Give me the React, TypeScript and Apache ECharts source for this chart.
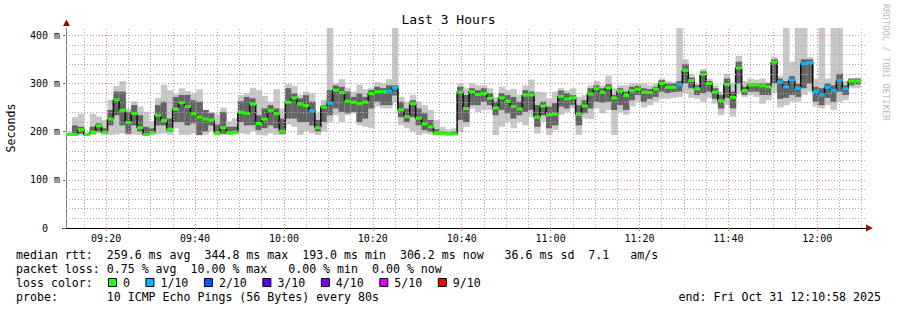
import React, { useEffect, useRef } from "react";
import * as echarts from "echarts";

// ---- time frame (seconds since midnight) ----
const START_TIME = 9 * 3600 + 10 * 60 + 58; // 09:10:58
const END_TIME = 12 * 3600 + 10 * 60 + 58; // 12:10:58
const STEP_SECONDS = 80;

// ---- per-step values (ms) ----
const median = [
  194, 194, 204, 194, 199, 212, 199, 226, 266, 244, 219, 237, 208, 194, 198, 234, 223, 205, 247, 260,
  252, 237, 230, 226, 224, 197, 208, 197, 199, 240, 238, 257, 217, 226, 244, 237, 201, 261, 270, 257,
  254, 243, 208, 251, 259, 286, 281, 263, 261, 258, 261, 279, 283, 283, 284, 291, 245, 231, 258, 228,
  216, 210, 197, 196, 195, 195, 282, 248, 283, 277, 279, 269, 249, 270, 263, 252, 247, 276, 276, 230,
  253, 235, 236, 273, 268, 270, 236, 253, 278, 289, 282, 291, 270, 284, 275, 285, 288, 282, 281, 288,
  300, 292, 292, 297, 327, 306, 289, 319, 300, 282, 264, 298, 271, 332, 285, 297, 297, 295, 293, 344,
  303, 293, 307, 290, 341, 343, 283, 276, 292, 286, 306, 289, 305, 305,
];
const pingMin = [
  192, 193, 193, 192, 193, 196, 194, 193, 194, 196, 193, 194, 193, 192, 193, 194, 196, 193, 207, 193,
  193, 196, 192, 193, 201, 192, 193, 193, 194, 196, 194, 200, 193, 192, 196, 193, 193, 215, 210, 193,
  200, 196, 193, 200, 220, 234, 220, 234, 238, 213, 210, 207, 252, 248, 248, 260, 213, 207, 200, 193,
  196, 194, 193, 193, 193, 193, 198, 210, 248, 241, 245, 245, 193, 210, 220, 207, 220, 213, 230, 196,
  220, 193, 203, 235, 240, 248, 193, 227, 226, 248, 238, 245, 193, 240, 235, 252, 262, 250, 255, 262,
  268, 268, 270, 272, 280, 270, 268, 262, 270, 258, 234, 255, 231, 279, 272, 276, 272, 258, 265, 280,
  250, 255, 262, 262, 276, 283, 252, 248, 255, 245, 262, 265, 290, 290,
];
const pingLow = [
  193, 194, 196, 193, 196, 200, 196, 213, 234, 213, 196, 213, 200, 193, 195, 213, 213, 200, 220, 220,
  213, 217, 193, 200, 213, 194, 196, 195, 196, 220, 213, 213, 203, 207, 213, 207, 196, 227, 227, 220,
  220, 213, 200, 220, 234, 248, 241, 238, 241, 220, 227, 248, 262, 255, 255, 275, 230, 220, 230, 213,
  203, 200, 194, 194, 194, 194, 224, 220, 255, 255, 262, 255, 234, 245, 238, 227, 234, 241, 245, 210,
  234, 207, 213, 252, 248, 255, 213, 238, 248, 262, 260, 262, 245, 255, 245, 265, 276, 262, 268, 272,
  283, 280, 282, 283, 300, 290, 276, 280, 283, 268, 248, 270, 248, 300, 276, 283, 283, 276, 276, 300,
  268, 270, 276, 272, 290, 300, 262, 255, 270, 262, 283, 276, 296, 298,
];
const pingHigh = [
  196, 213, 210, 196, 210, 217, 207, 245, 283, 283, 241, 255, 234, 210, 207, 255, 262, 227, 272, 276,
  276, 265, 262, 245, 238, 215, 241, 210, 210, 263, 272, 269, 234, 248, 255, 248, 227, 290, 279, 269,
  276, 262, 224, 255, 286, 296, 293, 283, 272, 279, 272, 286, 293, 290, 296, 296, 262, 248, 265, 248,
  238, 224, 205, 200, 198, 200, 293, 276, 290, 286, 290, 280, 262, 280, 276, 272, 262, 286, 283, 255,
  262, 252, 259, 285, 280, 276, 255, 265, 290, 296, 290, 298, 276, 290, 283, 293, 295, 290, 288, 293,
  307, 300, 300, 305, 340, 312, 296, 325, 305, 290, 276, 310, 283, 345, 293, 300, 300, 300, 300, 350,
  310, 305, 315, 300, 350, 350, 293, 290, 300, 296, 320, 296, 310, 310,
];
const pingMax = [
  200, 230, 237, 198, 237, 231, 224, 266, 295, 305, 248, 263, 252, 241, 222, 270, 297, 286, 278, 290,
  284, 279, 288, 245, 241, 236, 250, 221, 228, 276, 279, 291, 286, 274, 262, 288, 248, 299, 295, 276,
  283, 279, 240, 266, 415, 300, 309, 291, 283, 297, 288, 291, 303, 300, 309, 415, 272, 262, 276, 262,
  255, 245, 224, 210, 205, 207, 300, 290, 300, 296, 296, 290, 272, 293, 286, 289, 276, 296, 308, 283,
  282, 269, 283, 290, 286, 290, 272, 276, 296, 305, 296, 316, 290, 296, 296, 300, 300, 300, 296, 300,
  310, 305, 303, 415, 350, 320, 300, 330, 310, 296, 283, 320, 300, 357, 305, 310, 308, 310, 303, 355,
  315, 415, 345, 415, 415, 355, 310, 415, 310, 415, 415, 305, 310, 312,
];
// lost pings out of 10 per step
const lossCount = [
  0, 0, 0, 0, 0, 0, 0, 0, 0, 0, 0, 0, 0, 0, 0, 0, 0, 0, 0, 0,
  0, 0, 0, 0, 0, 0, 0, 0, 0, 0, 0, 0, 0, 0, 0, 0, 0, 0, 0, 0,
  0, 1, 0, 0, 1, 0, 0, 0, 0, 0, 0, 0, 0, 0, 1, 1, 0, 0, 0, 0,
  0, 0, 0, 0, 0, 0, 0, 0, 0, 0, 0, 0, 0, 0, 0, 0, 0, 0, 0, 0,
  0, 0, 0, 0, 0, 0, 0, 0, 0, 0, 0, 0, 0, 0, 0, 0, 0, 0, 0, 0,
  0, 0, 0, 1, 0, 0, 0, 0, 0, 0, 0, 0, 0, 0, 0, 0, 0, 0, 0, 0,
  1, 1, 1, 1, 1, 1, 1, 1, 1, 1, 1, 1, 0, 0,
];

const lossColors = ["#26ff00", "#00b8ff", "#0059ff", "#5e00ff", "#7e00ff", "#dd00ff", "#ff0000"];
const lossLabels = ["0", "1/10", "2/10", "3/10", "4/10", "5/10", "9/10"];
const xLabelTicks = ["09:20", "09:40", "10:00", "10:20", "10:40", "11:00", "11:20", "11:40", "12:00"];
const yLabelTicks = [0, 100, 200, 300, 400];

const statLines = [
  "median rtt:  259.6 ms avg  344.8 ms max  193.0 ms min  306.2 ms now   36.6 ms sd  7.1   am/s",
  "packet loss: 0.75 % avg  10.00 % max   0.00 % min  0.00 % now",
];
const probeLine = "probe:       10 ICMP Echo Pings (56 Bytes) every 80s";
const endLine = "end: Fri Oct 31 12:10:58 2025";

const MONO = '"DejaVu Sans Mono", monospace';
const nb = (s: string) => s.replace(/ /g, "\u00a0");
const toSec = (hm: string) => {
  const [h, m] = hm.split(":").map(Number);
  return h * 3600 + m * 60;
};
const fmtTime = (v: number) => {
  const h = Math.floor(v / 3600);
  const m = Math.round((v - h * 3600) / 60);
  return `${String(h).padStart(2, "0")}:${String(m).padStart(2, "0")}`;
};
const lossColor = (n: number) => lossColors[Math.min(n, 6)];

function buildOption() {
  const N = median.length;
  const stepStart = (i: number) => START_TIME + i * STEP_SECONDS;
  const smokeData = median.map((_, i) => [stepStart(i), stepStart(i + 1), pingMin[i], pingLow[i], pingHigh[i], pingMax[i]]);
  const medianData = median.map((m, i) => [stepStart(i), stepStart(i + 1), m, lossCount[i]]);
  const lineData = median.map((m, i) => [stepStart(i), m]).concat([[stepStart(N), median[N - 1]]]);
  const majorTimes = xLabelTicks.map(toSec);

  // grid lines (5 min / 20 ms minor, 20 min / 100 ms major)
  const minorTimes: number[] = [];
  for (let t = toSec("09:15"); t <= END_TIME; t += 300) if (!majorTimes.includes(t)) minorTimes.push(t);
  const minorValues: number[] = [];
  for (let v = 20; v <= 400; v += 20) if (v % 100 !== 0) minorValues.push(v);
  const majorValues = yLabelTicks.filter((v) => v > 0);
  const GRID = "#a9a9a9";
  const MGRID = "#e48c8c";
  const gridLines = [
    ...minorTimes.map((t) => ({ xAxis: t, lineStyle: { color: GRID } })),
    ...minorValues.map((v) => ({ yAxis: v, lineStyle: { color: GRID } })),
    ...majorTimes.map((t) => ({ xAxis: t, lineStyle: { color: MGRID } })),
    ...majorValues.map((v) => ({ yAxis: v, lineStyle: { color: MGRID } })),
  ];

  // legend row 3
  const legendEls: any[] = [];
  let lx = 108;
  lossLabels.forEach((lab, i) => {
    legendEls.push({
      type: "rect",
      shape: { x: lx + 0.5, y: 278.5, width: 8, height: 8 },
      style: { fill: lossColors[i], stroke: "#000", lineWidth: 1 },
    });
    legendEls.push({
      type: "text",
      x: lx + 15,
      y: 282.5,
      style: { text: lab, font: `11.6px ${MONO}`, fill: "#000", align: "left", verticalAlign: "middle" },
    });
    lx += 30.4 + 7.02 * lab.length;
  });

  return {
    animation: false,
    backgroundColor: "#ffffff",
    title: {
      text: "Last 3 Hours",
      left: "center",
      top: 13,
      padding: 0,
      textStyle: { fontFamily: MONO, fontSize: 13, fontWeight: "normal", color: "#000" },
    },
    grid: { left: 66, right: 31, top: 28, bottom: 82, containLabel: false },
    xAxis: {
      type: "value",
      min: START_TIME,
      max: END_TIME,
      axisLine: { show: true, lineStyle: { color: "#000", width: 1 } },
      axisTick: { show: true, length: 3, customValues: majorTimes, lineStyle: { color: MGRID } },
      axisLabel: {
        customValues: majorTimes,
        formatter: (v: number) => fmtTime(v),
        margin: 5,
        fontFamily: MONO,
        fontSize: 10,
        color: "#000",
      },
      splitLine: { show: false },
    },
    yAxis: {
      type: "value",
      min: 0,
      max: 415,
      axisLine: { show: true, lineStyle: { color: "#808080", width: 1 } },
      axisTick: { show: true, length: 3, customValues: yLabelTicks, lineStyle: { color: "#808080" } },
      axisLabel: {
        customValues: yLabelTicks,
        formatter: (v: number) => (v === 0 ? "{z|0}" : `${v} m`),
        margin: 6,
        fontFamily: MONO,
        fontSize: 10,
        color: "#000",
        rich: { z: { fontFamily: MONO, fontSize: 10, color: "#000", padding: [0, 12, 0, 0] } },
      },
      splitLine: { show: false },
    },
    series: [
      {
        type: "custom",
        name: "smoke",
        z: 2,
        silent: true,
        encode: { x: [0, 1], y: [2, 5] },
        data: smokeData,
        renderItem: (_p: any, api: any) => {
          const x0 = api.coord([api.value(0), 0])[0];
          const x1 = api.coord([api.value(1), 0])[0];
          const yMin = api.coord([api.value(0), api.value(2)])[1];
          const yLo = api.coord([api.value(0), api.value(3)])[1];
          const yHi = api.coord([api.value(0), api.value(4)])[1];
          const yMax = api.coord([api.value(0), api.value(5)])[1];
          const w = x1 - x0 + 0.6;
          return {
            type: "group",
            children: [
              { type: "rect", shape: { x: x0, y: yMax, width: w, height: yMin - yMax }, style: { fill: "#c8c8c8" } },
              { type: "rect", shape: { x: x0, y: yHi, width: w, height: yLo - yHi }, style: { fill: "#646464" } },
            ],
          };
        },
      },
      {
        type: "line",
        name: "grid",
        z: 3,
        silent: true,
        data: lineData,
        showSymbol: false,
        lineStyle: { opacity: 0, width: 0 },
        markLine: {
          silent: true,
          symbol: ["none", "none"],
          label: { show: false },
          emphasis: { disabled: true },
          lineStyle: { type: [1, 2], width: 1, color: GRID },
          data: gridLines,
        },
      },
      {
        type: "line",
        name: "median line",
        z: 4,
        silent: true,
        step: "end",
        data: lineData,
        showSymbol: false,
        lineStyle: { color: "#111", width: 1.6 },
      },
      {
        type: "custom",
        name: "median",
        z: 5,
        silent: true,
        encode: { x: [0, 1], y: 2 },
        data: medianData,
        renderItem: (_p: any, api: any) => {
          const x0 = api.coord([api.value(0), 0])[0];
          const x1 = api.coord([api.value(1), 0])[0];
          const y = api.coord([api.value(0), api.value(2)])[1];
          return {
            type: "rect",
            shape: { x: x0, y: y - 1.5, width: x1 - x0 + 0.4, height: 3 },
            style: { fill: lossColor(api.value(3)) },
          };
        },
      },
    ],
    graphic: [
      // axis arrows
      { type: "polygon", shape: { points: [[866, 224.5], [873, 228], [866, 231.5]] }, style: { fill: "#8b1010" } },
      { type: "polygon", shape: { points: [[63, 26], [66.5, 19.5], [70, 26]] }, style: { fill: "#8b1010" } },
      { type: "line", shape: { x1: 62, y1: 228.5, x2: 66, y2: 228.5 }, style: { stroke: "#000", lineWidth: 1 } },
      {
        type: "text",
        x: 11,
        y: 128,
        rotation: Math.PI / 2,
        style: { text: "Seconds", font: `11.6px ${MONO}`, fill: "#000", align: "center", verticalAlign: "middle" },
      },
      {
        type: "text",
        x: 886,
        y: 4,
        rotation: -Math.PI / 2,
        style: { text: nb("RRDTOOL / TOBI OETIKER"), font: `8.8px ${MONO}`, fill: "#bdbdbd", align: "left", verticalAlign: "middle" },
      },
      ...statLines.map((s, i) => ({
        type: "text",
        x: 16,
        y: 254.5 + i * 14,
        style: { text: nb(s), font: `11.6px ${MONO}`, fill: "#000", align: "left", verticalAlign: "middle" },
      })),
      {
        type: "text",
        x: 16,
        y: 282.5,
        style: { text: nb("loss color:"), font: `11.6px ${MONO}`, fill: "#000", align: "left", verticalAlign: "middle" },
      },
      ...legendEls,
      {
        type: "text",
        x: 16,
        y: 296.5,
        style: { text: nb(probeLine), font: `11.6px ${MONO}`, fill: "#000", align: "left", verticalAlign: "middle" },
      },
      {
        type: "text",
        x: 881,
        y: 296.5,
        style: { text: nb(endLine), font: `11.6px ${MONO}`, fill: "#000", align: "right", verticalAlign: "middle" },
      },
    ],
  };
}

export default function App() {
  const ref = useRef<HTMLDivElement>(null);
  useEffect(() => {
    if (!ref.current) return;
    const chart = echarts.init(ref.current, null, { renderer: "svg" });
    chart.setOption(buildOption() as any);
    return () => chart.dispose();
  }, []);
  return (
    <div
      ref={ref}
      style={{ position: "absolute", left: 0, top: 0, width: 897, height: 310, background: "#ffffff" }}
    />
  );
}
